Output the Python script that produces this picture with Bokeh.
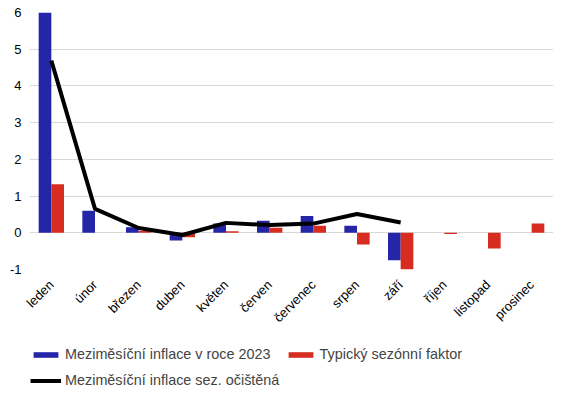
import math
from bokeh.plotting import figure
from bokeh.layouts import column
from bokeh.models import Range1d, FactorRange, Legend, LegendItem, ColumnDataSource, FixedTicker
from bokeh.transform import dodge
from bokeh.embed import file_html
from bokeh.resources import INLINE

months = ["leden", "únor", "březen", "duben", "květen", "červen", "červenec",
          "srpen", "září", "říjen", "listopad", "prosinec"]
inflace_months = months[:9]
inflace_2023 = [6.0, 0.6, 0.15, -0.21, 0.25, 0.33, 0.46, 0.19, -0.75]
sezonni_faktor = [1.32, 0.0, 0.05, -0.12, 0.04, 0.14, 0.19, -0.32, -1.0, -0.03, -0.43, 0.25]
ocistena_months = months[:9]
ocistena = [4.69, 0.65, 0.13, -0.06, 0.27, 0.21, 0.25, 0.51, 0.28]
y_ticks = [-1, 0, 1, 2, 3, 4, 5, 6]
legend_labels = ["Meziměsíční inflace v roce 2023", "Typický sezónní faktor",
                 "Meziměsíční inflace sez. očištěná"]

BLUE = "#2525A8"
RED = "#D62D20"
FONT = "Liberation Sans"

src_b = ColumnDataSource(dict(m=inflace_months, v=inflace_2023))
src_r = ColumnDataSource(dict(m=months, v=sezonni_faktor))
src_l = ColumnDataSource(dict(m=ocistena_months, v=ocistena))


def add_series(fig):
    rb = fig.vbar(x=dodge("m", -0.145, range=fig.x_range), top="v", bottom=0, width=0.29,
                  source=src_b, fill_color=BLUE, line_color=None)
    rr = fig.vbar(x=dodge("m", 0.145, range=fig.x_range), top="v", bottom=0, width=0.29,
                  source=src_r, fill_color=RED, line_color=None)
    rl = fig.line(x="m", y="v", source=src_l, line_color="black", line_width=4)
    return rb, rr, rl


p = figure(x_range=FactorRange(*months), y_range=Range1d(-1, 6),
           width=555, height=335, output_backend="svg", toolbar_location=None,
           min_border_left=29, min_border_top=12, min_border_right=2, min_border_bottom=66)
p.outline_line_color = None
p.background_fill_color = "white"
add_series(p)

p.xgrid.grid_line_color = None
p.ygrid.grid_line_color = "#d9d9d9"
p.ygrid.grid_line_width = 1
p.yaxis.ticker = FixedTicker(ticks=y_ticks)
p.yaxis.major_label_overrides = {t: str(t) for t in y_ticks}

for ax in (p.xaxis[0], p.yaxis[0]):
    ax.axis_line_color = None
    ax.major_tick_line_color = None
    ax.minor_tick_line_color = None
    ax.major_tick_out = 0
    ax.major_tick_in = 0
    ax.major_label_text_font = FONT
    ax.major_label_text_font_size = "13px"
    ax.major_label_text_color = "black"

p.yaxis.major_label_standoff = 8
p.xaxis.major_label_orientation = math.pi / 4
p.xaxis.major_label_standoff = 13

# legend strip: same series on a y range where they fall out of view, only the legend shows
lf = figure(width=555, height=56, output_backend="svg", toolbar_location=None,
            x_range=FactorRange(*months), y_range=Range1d(100, 101),
            x_axis_type=None, y_axis_type=None, min_border=0)
lf.outline_line_color = None
lf.xgrid.visible = False
lf.ygrid.visible = False
e1, e2, e3 = add_series(lf)

leg1 = Legend(items=[LegendItem(label=legend_labels[0], renderers=[e1]),
                     LegendItem(label=legend_labels[1], renderers=[e2])],
              orientation="horizontal", location=(1, 29))
leg2 = Legend(items=[LegendItem(label=legend_labels[2], renderers=[e3])],
              orientation="horizontal", location=(1, 3))
for lg in (leg1, leg2):
    lg.border_line_color = None
    lg.background_fill_alpha = 0
    lg.glyph_width = 31
    lg.glyph_height = 7
    lg.label_height = 16
    lg.label_text_font = FONT
    lg.label_text_font_size = "14.4px"
    lg.label_standoff = 4
    lg.spacing = 14
    lg.padding = 0
    lg.margin = 0
    lf.add_layout(lg, "center")

open("out.html", "w").write(file_html(column(p, lf), INLINE))
